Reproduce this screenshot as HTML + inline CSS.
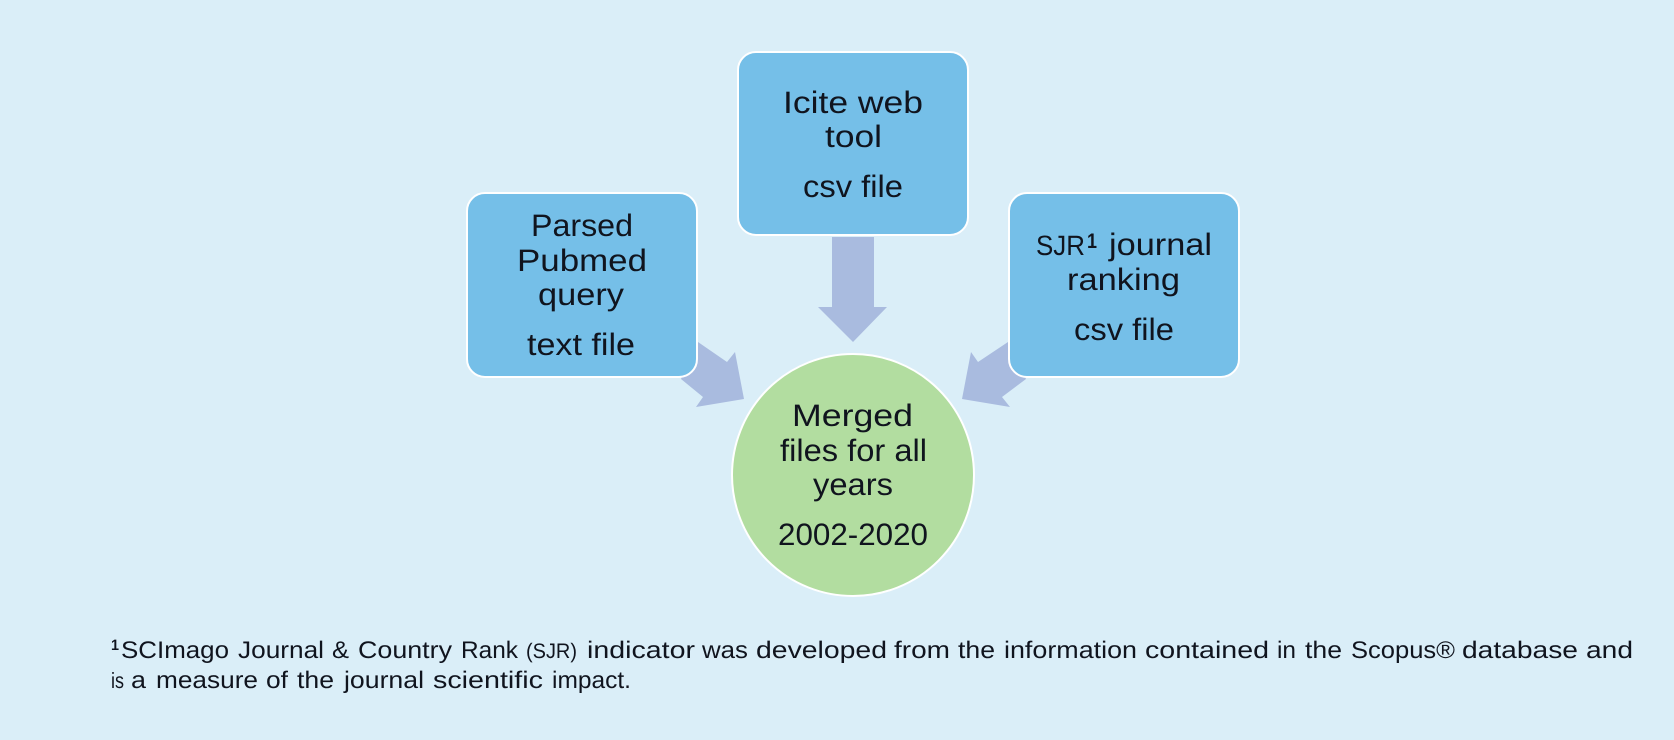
<!DOCTYPE html>
<html>
<head>
<meta charset="utf-8">
<style>
html,body{margin:0;padding:0;background:#DAEEF8;}
svg{display:block;}
text{font-family:"Liberation Sans",sans-serif;fill:#10141e;text-rendering:geometricPrecision;}
.m{font-size:31px;}
.f{font-size:24px;}
</style>
</head>
<body>
<svg width="1674" height="740" viewBox="0 0 1674 740" xmlns="http://www.w3.org/2000/svg">
<rect width="1674" height="740" fill="#DAEEF8"/>
<g fill="#A9BBDF">
<polygon points="832,237 874,237 874,307 887,307 853,342 818,307 832,307"/>
<polygon points="698,342 727,362 735,352 744,399 696,407 703,397 681,379"/>
<polygon points="1008,342 978,362 971,352 962,399 1010,407 1002,397 1026,379"/>
</g>
<g fill="#75BFE8" stroke="#FFFFFF" stroke-width="2">
<rect x="467" y="193" width="230" height="184" rx="18"/>
<rect x="738" y="52" width="230" height="183" rx="18"/>
<rect x="1009" y="193" width="230" height="184" rx="18"/>
</g>
<circle cx="853" cy="475" r="121" fill="#B2DDA0" stroke="#FFFFFF" stroke-width="2"/>
<text class="m" x="531" y="236" textLength="102" lengthAdjust="spacingAndGlyphs">Parsed</text>
<text class="m" x="517" y="271" textLength="130" lengthAdjust="spacingAndGlyphs">Pubmed</text>
<text class="m" x="538" y="305" textLength="86" lengthAdjust="spacingAndGlyphs">query</text>
<text class="m" x="527" y="355" textLength="108" lengthAdjust="spacingAndGlyphs">text file</text>
<text class="m" x="783" y="113" textLength="140" lengthAdjust="spacingAndGlyphs">Icite web</text>
<text class="m" x="825" y="147" textLength="57" lengthAdjust="spacingAndGlyphs">tool</text>
<text class="m" x="803" y="197" textLength="100" lengthAdjust="spacingAndGlyphs">csv file</text>
<text x="1036" y="255" font-size="28" textLength="49" lengthAdjust="spacingAndGlyphs">SJR</text>
<text x="1087" y="248" font-size="21" font-weight="bold" textLength="10" lengthAdjust="spacingAndGlyphs">1</text>
<text class="m" x="1109" y="255" textLength="103" lengthAdjust="spacingAndGlyphs">journal</text>
<text class="m" x="1067" y="290" textLength="113" lengthAdjust="spacingAndGlyphs">ranking</text>
<text class="m" x="1074" y="340" textLength="100" lengthAdjust="spacingAndGlyphs">csv file</text>
<text class="m" x="792" y="426" textLength="121" lengthAdjust="spacingAndGlyphs">Merged</text>
<text class="m" x="780" y="461" textLength="147" lengthAdjust="spacingAndGlyphs">files for all</text>
<text class="m" x="813" y="495" textLength="80" lengthAdjust="spacingAndGlyphs">years</text>
<text class="m" x="778" y="545" textLength="150" lengthAdjust="spacingAndGlyphs">2002-2020</text>
<text x="111" y="650" font-size="15" font-weight="bold" textLength="8" lengthAdjust="spacingAndGlyphs">1</text>
<g class="f">
<text class="f" x="121" y="658" textLength="108" lengthAdjust="spacingAndGlyphs">SCImago</text>
<text class="f" x="238" y="658" textLength="86" lengthAdjust="spacingAndGlyphs">Journal</text>
<text class="f" x="332" y="658" textLength="17" lengthAdjust="spacingAndGlyphs">&amp;</text>
<text class="f" x="358" y="658" textLength="94" lengthAdjust="spacingAndGlyphs">Country</text>
<text class="f" x="461" y="658" textLength="57" lengthAdjust="spacingAndGlyphs">Rank</text>
<text x="526" y="658" font-size="21" textLength="51" lengthAdjust="spacingAndGlyphs">(SJR)</text>
<text class="f" x="587" y="658" textLength="108" lengthAdjust="spacingAndGlyphs">indicator</text>
<text class="f" x="702" y="658" textLength="46" lengthAdjust="spacingAndGlyphs">was</text>
<text class="f" x="756" y="658" textLength="131" lengthAdjust="spacingAndGlyphs">developed</text>
<text class="f" x="894" y="658" textLength="56" lengthAdjust="spacingAndGlyphs">from</text>
<text class="f" x="958" y="658" textLength="37" lengthAdjust="spacingAndGlyphs">the</text>
<text class="f" x="1004" y="658" textLength="133" lengthAdjust="spacingAndGlyphs">information</text>
<text class="f" x="1145" y="658" textLength="124" lengthAdjust="spacingAndGlyphs">contained</text>
<text class="f" x="1277" y="658" textLength="19" lengthAdjust="spacingAndGlyphs">in</text>
<text class="f" x="1305" y="658" textLength="37" lengthAdjust="spacingAndGlyphs">the</text>
<text class="f" x="1351" y="658" textLength="104" lengthAdjust="spacingAndGlyphs">Scopus®</text>
<text class="f" x="1462" y="658" textLength="116" lengthAdjust="spacingAndGlyphs">database</text>
<text class="f" x="1586" y="658" textLength="47" lengthAdjust="spacingAndGlyphs">and</text>
<text x="111" y="688" font-size="22" textLength="13" lengthAdjust="spacingAndGlyphs">is</text>
<text class="f" x="131" y="688" textLength="15" lengthAdjust="spacingAndGlyphs">a</text>
<text class="f" x="156" y="688" textLength="102" lengthAdjust="spacingAndGlyphs">measure</text>
<text class="f" x="266" y="688" textLength="22" lengthAdjust="spacingAndGlyphs">of</text>
<text class="f" x="297" y="688" textLength="37" lengthAdjust="spacingAndGlyphs">the</text>
<text class="f" x="344" y="688" textLength="80" lengthAdjust="spacingAndGlyphs">journal</text>
<text class="f" x="433" y="688" textLength="110" lengthAdjust="spacingAndGlyphs">scientific</text>
<text class="f" x="552" y="688" textLength="79" lengthAdjust="spacingAndGlyphs">impact.</text>
</g>
</svg>
</body>
</html>
